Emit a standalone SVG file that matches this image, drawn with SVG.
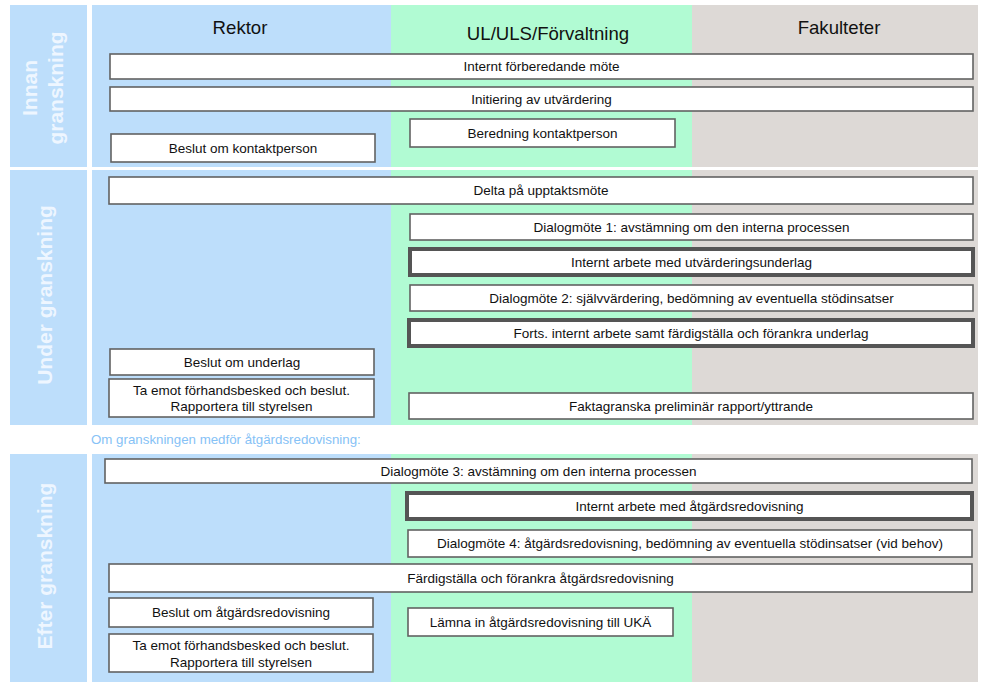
<svg xmlns="http://www.w3.org/2000/svg" width="981" height="682" viewBox="0 0 981 682">
<style>
.bl{fill:#BDDEFB}.gr{fill:#B1FBD3}.tp{fill:#DDD9D6}
.box{fill:#fff;stroke:#626262;stroke-width:1.6}
.thick{fill:#fff;stroke:#555;stroke-width:4}
.t{font-family:"Liberation Sans",Arial,sans-serif;font-size:13.5px;fill:#111;text-anchor:middle}
.h{font-family:"Liberation Sans",Arial,sans-serif;font-size:18.6px;fill:#111;text-anchor:middle}
.lab{font-family:"Liberation Sans",Arial,sans-serif;font-size:21px;font-weight:bold;fill:#EEF6FF;text-anchor:middle}
.cap{font-family:"Liberation Sans",Arial,sans-serif;font-size:13.3px;fill:#86C2F6}
</style>
<rect width="981" height="682" fill="#fff"/>
<g id="background">
<rect class="bl" x="10" y="5" width="77" height="162"/>
<rect class="bl" x="10" y="170" width="77" height="255"/>
<rect class="bl" x="10" y="454" width="77" height="228"/>
<rect class="bl" x="92" y="5" width="299" height="162"/>
<rect class="gr" x="391" y="5" width="301" height="162"/>
<rect class="tp" x="692" y="5" width="286" height="162"/>
<rect class="bl" x="92" y="170" width="299" height="255"/>
<rect class="gr" x="391" y="170" width="301" height="255"/>
<rect class="tp" x="692" y="170" width="286" height="255"/>
<rect class="bl" x="92" y="454" width="299" height="228"/>
<rect class="gr" x="391" y="454" width="301" height="228"/>
<rect class="tp" x="692" y="454" width="286" height="228"/>
</g>
<g id="labels">
<text class="lab" transform="translate(37,88) rotate(-90)">Innan</text>
<text class="lab" transform="translate(63,88) rotate(-90)">granskning</text>
<text class="lab" transform="translate(52,295) rotate(-90)">Under granskning</text>
<text class="lab" transform="translate(52,566) rotate(-90)">Efter granskning</text>
<text class="h" x="240" y="34">Rektor</text>
<text class="h" x="548" y="40">UL/ULS/Förvaltning</text>
<text class="h" x="839" y="34">Fakulteter</text>
<text class="cap" x="91" y="444">Om granskningen medför åtgärdsredovisning:</text>
</g>
<g id="connectors"></g>
<g id="n1"><rect class="box" x="110" y="54" width="863" height="25"/><text class="t" x="541.5" y="71">Internt förberedande möte</text></g>
<g id="n2"><rect class="box" x="110" y="87" width="863" height="24"/><text class="t" x="541.5" y="103.5">Initiering av utvärdering</text></g>
<g id="n3"><rect class="box" x="410" y="119" width="265" height="28"/><text class="t" x="542.5" y="137.5">Beredning kontaktperson</text></g>
<g id="n4"><rect class="box" x="111" y="134" width="264" height="28"/><text class="t" x="243" y="152.5">Beslut om kontaktperson</text></g>
<g id="n5"><rect class="box" x="109" y="177" width="864" height="27"/><text class="t" x="541" y="195">Delta på upptaktsmöte</text></g>
<g id="n6"><rect class="box" x="410" y="214" width="563" height="26"/><text class="t" x="691.5" y="231.5">Dialogmöte 1: avstämning om den interna processen</text></g>
<g id="n7"><rect class="thick" x="410" y="249" width="563" height="26"/><text class="t" x="691.5" y="266.5">Internt arbete med utvärderingsunderlag</text></g>
<g id="n8"><rect class="box" x="410" y="285" width="563" height="26"/><text class="t" x="691.5" y="302.5">Dialogmöte 2: självvärdering, bedömning av eventuella stödinsatser</text></g>
<g id="n9"><rect class="thick" x="409" y="320" width="564" height="26"/><text class="t" x="691" y="337.5">Forts. internt arbete samt färdigställa och förankra underlag</text></g>
<g id="n10"><rect class="box" x="110" y="349" width="264" height="26"/><text class="t" x="242" y="366.5">Beslut om underlag</text></g>
<g id="n11"><rect class="box" x="109" y="379" width="265" height="38"/><text class="t" x="241.5" y="394.5">Ta emot förhandsbesked och beslut.</text><text class="t" x="241.5" y="411">Rapportera till styrelsen</text></g>
<g id="n12"><rect class="box" x="409" y="393" width="564" height="26"/><text class="t" x="691" y="410.5">Faktagranska preliminär rapport/yttrande</text></g>
<g id="n13"><rect class="box" x="105" y="459" width="867" height="24"/><text class="t" x="538.5" y="475.5">Dialogmöte 3: avstämning om den interna processen</text></g>
<g id="n14"><rect class="thick" x="407" y="493" width="565" height="26"/><text class="t" x="689.5" y="510.5">Internt arbete med åtgärdsredovisning</text></g>
<g id="n15"><rect class="box" x="408" y="530" width="564" height="27"/><text class="t" x="690" y="548">Dialogmöte 4: åtgärdsredovisning, bedömning av eventuella stödinsatser (vid behov)</text></g>
<g id="n16"><rect class="box" x="109" y="564" width="863" height="28"/><text class="t" x="540.5" y="582.5">Färdigställa och förankra åtgärdsredovisning</text></g>
<g id="n17"><rect class="box" x="109" y="598" width="264" height="29"/><text class="t" x="241" y="617">Beslut om åtgärdsredovisning</text></g>
<g id="n18"><rect class="box" x="408" y="608" width="265" height="28"/><text class="t" x="540.5" y="626.5">Lämna in åtgärdsredovisning till UKÄ</text></g>
<g id="n19"><rect class="box" x="109" y="634" width="264" height="38"/><text class="t" x="241" y="650">Ta emot förhandsbesked och beslut.</text><text class="t" x="241" y="666.5">Rapportera till styrelsen</text></g>
</svg>
